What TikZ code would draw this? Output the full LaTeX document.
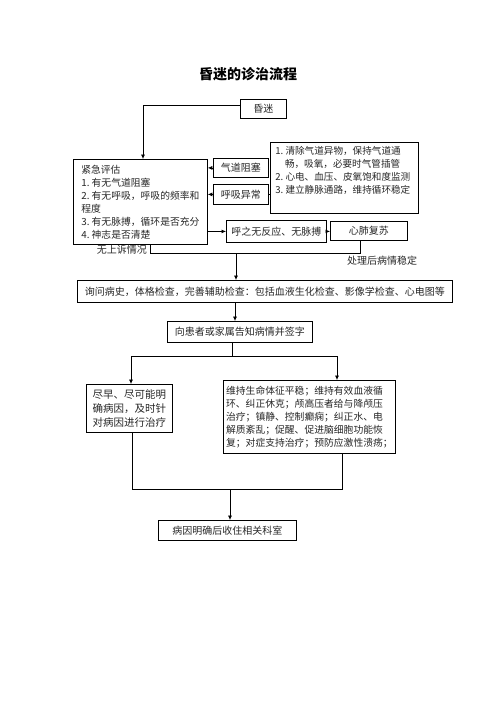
\documentclass[tikz,border=0pt]{standalone}
\usepackage{fontspec}
\setmainfont{Noto Sans CJK SC}
\usetikzlibrary{arrows.meta,calc}
\begin{document}
\begin{tikzpicture}[x=1pt,y=-1pt,
  txt/.style={font=\fontsize{10}{13}\selectfont, text=black!85},
  box/.style={txt, draw, line width=0.8pt, anchor=north west, inner sep=0pt, align=center},
  lbox/.style={box, align=left},
  arr/.style={-{Latex[length=4.5pt,width=4pt]}, line width=0.7pt},
  ln/.style={line width=0.7pt}]
\useasboundingbox (0,0) rectangle (496,702);
\node[font=\bfseries\fontsize{14}{16}\selectfont] (title) at (248,74) {昏迷的诊治流程};
\node[box, minimum width=46pt, minimum height=19pt] (coma) at (240,99) {昏迷};
\node[lbox, font=\fontsize{9.8}{13}\selectfont, minimum width=134pt, minimum height=85pt] (assess) at (73,159)
  {紧急评估\\\mbox{1.~有无气道阻塞}\\\mbox{2.~有无呼吸，呼吸的频率和}\\程度\\\mbox{3.~有无脉搏，循环是否充分}\\\mbox{4.~神志是否清楚}};
\node[box, minimum width=55pt, minimum height=19pt] (airway) at (213,158) {气道阻塞};
\node[box, minimum width=55pt, minimum height=20pt] (breath) at (213,184) {呼吸异常};
\node[box, minimum width=148pt, minimum height=71pt] (treat) at (270,142)
  {\parbox[c][63pt][t]{138pt}{\fontsize{9.6}{13}\selectfont
   \mbox{1.~清除气道异物，保持气道通}\\\mbox{\hspace*{1em}畅，吸氧，必要时气管插管}\\\mbox{2.~心电、血压、皮氧饱和度监测}\\\mbox{3.~建立静脉通路，维持循环稳定}}};
\node[box, minimum width=100pt, minimum height=22pt] (noresp) at (226,220) {呼之无反应、无脉搏};
\node[box, minimum width=77pt, minimum height=19pt] (cpr) at (330,221) {心肺复苏};
\node[box, minimum width=375pt, minimum height=22pt] (history) at (77,280)
  {询问病史，体格检查，完善辅助检查：包括血液生化检查、影像学检查、心电图等};
\node[box, minimum width=145pt, minimum height=21pt] (inform) at (167,321) {向患者或家属告知病情并签字};
\node[lbox, font=\fontsize{10.5}{14}\selectfont, minimum width=86pt, minimum height=48pt] (cause) at (86,384)
  {尽早、尽可能明\\确病因，及时针\\对病因进行治疗};
\node[lbox, font=\fontsize{9.8}{13}\selectfont, minimum width=172pt, minimum height=73pt] (maintain) at (223,380)
  {维持生命体征平稳；维持有效血液循\\环、纠正休克；颅高压者给与降颅压\\治疗；镇静、控制癫痫；纠正水、电\\解质紊乱；促醒、促进脑细胞功能恢\\复；对症支持治疗；预防应激性溃疡；};
\node[box, minimum width=138pt, minimum height=20pt] (admit) at (158,520) {病因明确后收住相关科室};
% labels
\node[txt, anchor=east, inner sep=0pt] (lbl1) at (147,250) {无上诉情况};
\node[txt, anchor=west, inner sep=0pt] (lbl2) at (347,261) {处理后病情稳定};
% connectors
\draw[arr] ($(coma.north west)+(0,6)$) -| ($(assess.north west)+(70,0)$);
\draw[arr] (airway.west) -- (airway.west -| assess.east);
\draw[arr] (breath.west) -- (breath.west -| assess.east);
\draw[ln] (breath.east) -- (breath.east -| treat.west);
\draw[arr] (assess.east |- noresp.west) -- (noresp.west);
\draw[arr] (noresp.east) -- (noresp.east -| cpr.west);
\coordinate (merge) at (236,253);
\draw[ln] ($(cpr.south west)+(30,0)$) |- (merge);
\draw[ln] ($(assess.south west)+(77,0)$) |- (merge);
\draw[arr] (merge) -- (merge |- history.north);
\coordinate (h1) at ($(history.south west)+(158,0)$);
\draw[arr] (h1) -- (h1 |- inform.north);
\coordinate (split) at (232,356);
\draw[ln] (split |- inform.south) -- (split);
\draw[arr] (split) -| ($(cause.north west)+(45,0)$);
\draw[arr] (split) -| ($(maintain.north west)+(114,0)$);
\coordinate (join) at (230,489);
\draw[ln] ($(cause.south west)+(46,0)$) |- (join);
\draw[ln] ($(maintain.south west)+(119,0)$) |- (join);
\draw[arr] (join) -- (join |- admit.north);
\end{tikzpicture}
\end{document}
